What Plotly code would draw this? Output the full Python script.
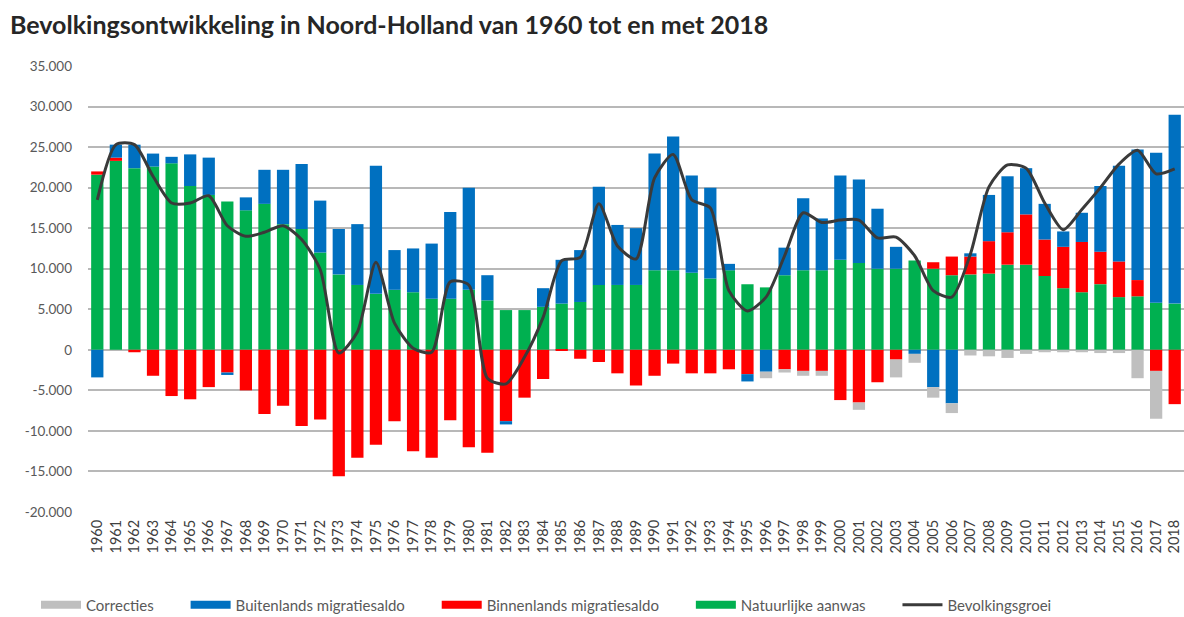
import plotly.graph_objects as go

years = [str(y) for y in range(1960, 2019)]

natuurlijke_aanwas = [
    21600, 23300, 22400, 22600, 23000, 20200, 19100, 18300, 17200, 18000,
    15500, 14900, 12000, 9300, 8000, 6900, 7400, 7100, 6300, 6300,
    7400, 6100, 4900, 4900, 5300, 5700, 5900, 8000, 8000, 8000,
    9800, 9800, 9500, 8800, 9800, 8100, 7700, 9200, 9800, 9800,
    11100, 10700, 10000, 10000, 11000, 10000, 9200, 9300, 9400, 10500,
    10500, 9100, 7600, 7100, 8100, 6500, 6600, 5800, 5700,
]

binnenlands_migratiesaldo = [
    400, 400, -300, -3200, -5700, -6100, -4600, -2800, -5000, -7900,
    -6900, -9400, -8600, -15600, -13300, -11700, -8800, -12500, -13300, -8700,
    -12000, -12700, -8800, -5900, -3600, -100, -1100, -1500, -2900, -4400,
    -3200, -1700, -2900, -2900, -2400, -3000, 0, -2400, -2600, -2600,
    -6200, -6500, -4000, -1200, 0, 800, 2300, 2200, 4000, 4000,
    6200, 4500, 5100, 6200, 4000, 4400, 2000, -2600, -6700,
]

buitenlands_migratiesaldo = [
    -3400, 1600, 2900, 1600, 800, 3900, 4600, -300, 1600, 4200,
    6700, 8000, 6400, 5600, 7500, 15800, 4900, 5400, 6800, 10700,
    12600, 3100, -400, 0, 2300, 5400, 6400, 12100, 7400, 7000,
    14400, 16500, 12000, 11200, 800, -900, -2700, 3400, 8900, 6400,
    10400, 10300, 7400, 2700, -500, -4600, -6600, 400, 5700, 6900,
    5700, 4400, 1900, 3600, 8100, 11800, 16100, 18500, 23300,
]

correcties = [
    0, 0, 0, 0, 0, 0, 0, 0, 0, 0,
    0, 0, 0, 0, 0, 0, 0, 0, 0, 0,
    0, 0, 0, 0, 0, 0, 0, 0, 0, 0,
    0, 0, 0, 0, 0, 0, -800, -400, -600, -600,
    0, -900, 0, -2200, -1100, -1300, -1200, -700, -800, -1000,
    -500, -300, -300, -300, -400, -400, -3500, -5900, 0,
]

bevolkingsgroei = [
    18500, 25300, 25300, 21400, 18100, 18100, 19000, 15300, 14000, 14500,
    15300, 13600, 9900, -400, 2200, 10800, 3300, 200, -300, 8400,
    8000, -3500, -4200, -900, 4000, 11000, 11400, 18000, 12800, 11200,
    21200, 24100, 18500, 17500, 7300, 4800, 6500, 11600, 16900, 15700,
    16000, 16000, 13800, 13900, 11600, 7300, 6500, 11800, 20100, 22800,
    22400, 18100, 14800, 17300, 20000, 22900, 24600, 21700, 22300,
]

y_tickvals = [-20000, -15000, -10000, -5000, 0, 5000, 10000, 15000, 20000, 25000, 30000, 35000]
y_ticktext = ["-20.000", "-15.000", "-10.000", "-5.000", "0", "5.000", "10.000",
              "15.000", "20.000", "25.000", "30.000", "35.000"]

C_GREEN = "#00B050"
C_RED = "#FF0000"
C_BLUE = "#0070C0"
C_GRAY = "#BFBFBF"
C_LINE = "#3A3A3A"
FONT = "Lato"
TXT = "#595959"
PAD = "\u00a0" * 7

fig = go.Figure()

# stacked bars (order from baseline outwards)
for name, vals, col in [
    ("Natuurlijke aanwas", natuurlijke_aanwas, C_GREEN),
    ("Binnenlands migratiesaldo", binnenlands_migratiesaldo, C_RED),
    ("Buitenlands migratiesaldo", buitenlands_migratiesaldo, C_BLUE),
    ("Correcties", correcties, C_GRAY),
]:
    fig.add_trace(go.Bar(x=years, y=vals, name=name, marker=dict(color=col, line=dict(width=0)),
                         showlegend=False))

# legend entries (wide swatches like the original)
for name, col in [
    ("Correcties", C_GRAY),
    ("Buitenlands migratiesaldo", C_BLUE),
    ("Binnenlands migratiesaldo", C_RED),
    ("Natuurlijke aanwas", C_GREEN),
]:
    fig.add_trace(go.Scatter(x=[None], y=[None], mode="lines", name=name + PAD,
                             line=dict(color=col, width=8), hoverinfo="skip"))

fig.add_trace(go.Scatter(x=years, y=bevolkingsgroei, mode="lines", name="Bevolkingsgroei",
                         line=dict(color=C_LINE, width=3, shape="spline", smoothing=0.7)))

fig.update_layout(
    width=1184, height=617,
    barmode="relative", bargap=0.34,
    plot_bgcolor="white", paper_bgcolor="white",
    margin=dict(l=88, r=0, t=66, b=105, autoexpand=False),
    font=dict(family=FONT, color=TXT, size=13),
    title=dict(text="<b>Bevolkingsontwikkeling in Noord-Holland van 1960 tot en met 2018</b>",
               xref="container", yref="container", x=10 / 1184, xanchor="left",
               y=1 - 25 / 617, yanchor="middle",
               font=dict(family=FONT, size=25, color="#262626")),
    legend=dict(orientation="h", xref="container", yref="container",
                x=36 / 1184, xanchor="left", y=1 - 605 / 617, yanchor="middle",
                font=dict(family=FONT, size=15, color=TXT), itemwidth=40,
                bgcolor="rgba(0,0,0,0)"),
    xaxis=dict(type="category", tickangle=-90, showgrid=False, showline=False, ticks="",
               automargin=False, ticklabelstandoff=4,
               tickfont=dict(family=FONT, size=14.5, color="#404040")),
    yaxis=dict(range=[-20000, 35000], tickvals=y_tickvals, ticktext=y_ticktext,
               showgrid=True, gridcolor="#B8B8B8", gridwidth=1.5,
               zeroline=True, zerolinecolor="#B8B8B8", zerolinewidth=1.5,
               showline=False, ticks="", ticklabelstandoff=15, automargin=False,
               tickfont=dict(family=FONT, size=13.5, color=TXT)),
)

fig.write_html("out.html", config={"displayModeBar": False},
               post_script="document.body.style.margin='0';")
